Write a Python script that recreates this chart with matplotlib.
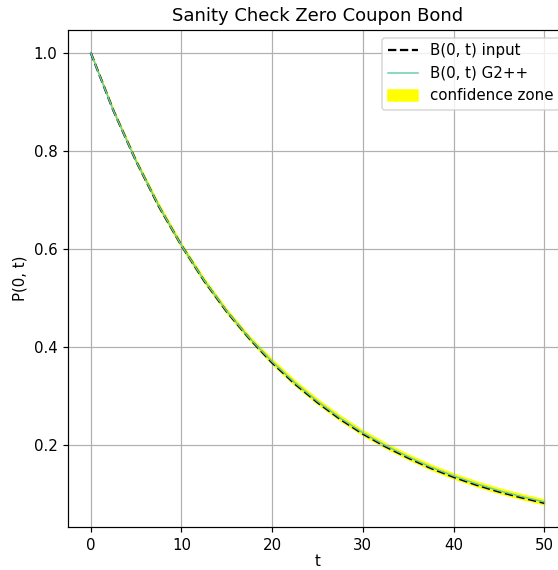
import matplotlib
matplotlib.use("Agg")
import matplotlib.pyplot as plt
import numpy as np

# maturities (years)
t = np.arange(0, 50.1, 2.5)

# zero coupon prices from the input curve
b_input = [1.000, 0.882, 0.779, 0.687, 0.607, 0.535, 0.472, 0.417, 0.368, 0.325, 0.287,
           0.253, 0.223, 0.197, 0.174, 0.153, 0.135, 0.119, 0.105, 0.093, 0.082]

# Monte Carlo G2++ estimate
b_g2pp = [1.000, 0.882, 0.779, 0.688, 0.607, 0.536, 0.473, 0.418, 0.370, 0.327, 0.289,
          0.255, 0.225, 0.199, 0.176, 0.155, 0.137, 0.121, 0.107, 0.095, 0.084]

# confidence band of the estimate
conf_low = [1.000, 0.880, 0.776, 0.684, 0.603, 0.532, 0.469, 0.414, 0.365, 0.322, 0.284,
            0.250, 0.220, 0.194, 0.171, 0.150, 0.132, 0.116, 0.102, 0.090, 0.079]
conf_high = [1.000, 0.884, 0.782, 0.692, 0.611, 0.540, 0.477, 0.422, 0.375, 0.332, 0.294,
             0.260, 0.230, 0.204, 0.181, 0.160, 0.142, 0.126, 0.112, 0.100, 0.089]

dpi = 108
fig = plt.figure(figsize=(558 / dpi, 570 / dpi), dpi=dpi)
ax = fig.add_axes([68 / 558, 43 / 570, 499 / 558, 497 / 570])

ax.plot(t, b_input, "k--", label="B(0, t) input")
ax.plot(t, b_g2pp, color="mediumaquamarine", lw=1, label="B(0, t) G2++")
ax.fill_between(t, conf_low, conf_high, color="yellow", zorder=1, label="confidence zone")

ax.set_title("Sanity Check Zero Coupon Bond")
ax.set_xlabel("t", labelpad=1)
ax.set_ylabel("P(0, t)")
ax.grid(True)
ax.legend(loc="upper right")

fig.savefig("out.png", dpi=dpi)
